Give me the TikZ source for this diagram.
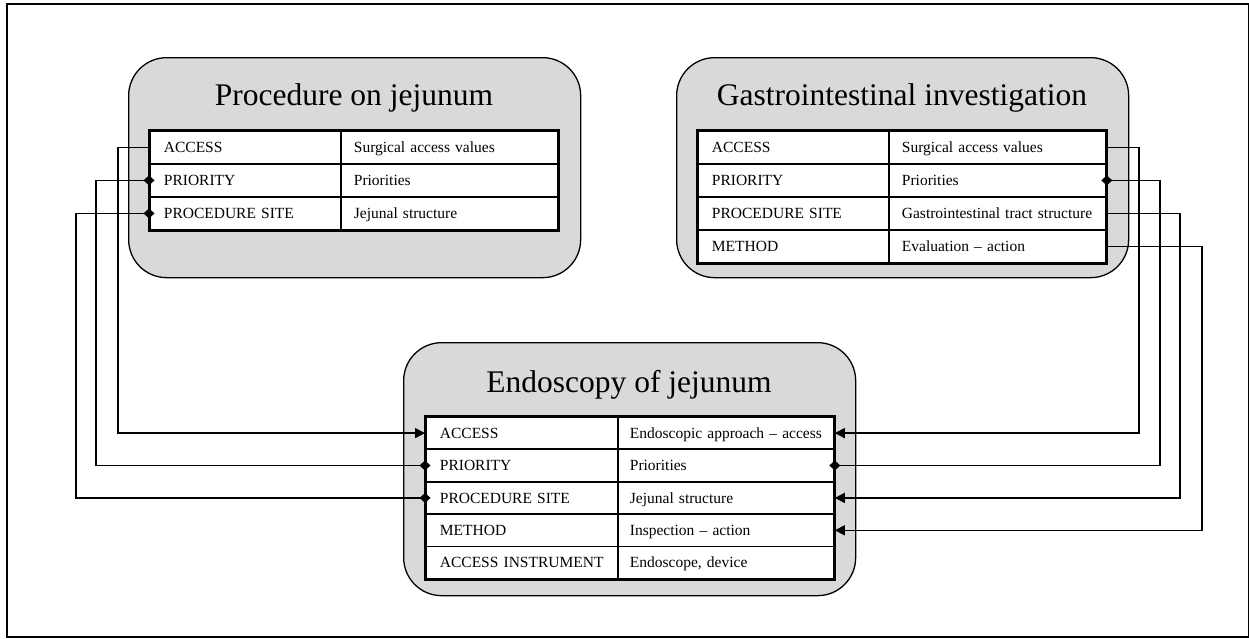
\documentclass[tikz,border=0pt]{standalone}
\usepackage{fontspec}
\setmainfont{Liberation Serif}
\usetikzlibrary{arrows.meta}
\definecolor{panelgrey}{RGB}{217,217,217}
\tikzset{
  panel/.style={draw=black, line width=1.3pt, fill=panelgrey, rounded corners=38pt, anchor=north west, inner sep=0pt},
  title/.style={anchor=base, font=\fontsize{31.5}{36}\selectfont, inner sep=0pt},
  cell/.style={draw=black, line width=1.8pt, fill=white, anchor=north west, inner xsep=0pt, inner ysep=0pt,
               align=left, text height=10.3pt, text depth=0pt, font=\fontsize{15.5}{18}\selectfont},
  cola/.style={cell, text width=191pt, minimum height=33pt, execute at begin node={\hspace*{14pt}}},
  colb/.style={cell, text width=217pt, minimum height=33pt, execute at begin node={\hspace*{13pt}}},
  bcola/.style={cell, text width=192pt, minimum height=32.4pt, execute at begin node={\hspace*{14pt}}},
  bcolb/.style={cell, text width=216pt, minimum height=32.4pt, execute at begin node={\hspace*{12pt}}},
  tframe/.style={draw=black, line width=3pt},
  conn/.style={draw=black, line width=1.6pt},
  arr/.style={conn, -{Triangle[length=10pt,width=10pt]}},
  dia/.style={conn, {Diamond[length=11pt,width=10pt]}-{Diamond[length=11pt,width=10pt]}, shorten <=-5.5pt, shorten >=-5.5pt},
}
\begin{document}
\begin{tikzpicture}[x=1pt,y=-1pt]
\useasboundingbox (0,0) rectangle (1249,638);
\draw[line width=1.4pt] (7,4) rectangle (1248.3,637);

% panels
\node[panel, minimum width=452pt, minimum height=220pt] (pl) at (128,57) {};
\node[panel, minimum width=452pt, minimum height=220pt] (pr) at (676,57) {};
\node[panel, minimum width=452pt, minimum height=253pt] (pb) at (403,342) {};

\node[title] (tl) at (354,105) {Procedure on jejunum};
\node[title] (tr) at (902,105) {Gastrointestinal investigation};
\node[title] (tb) at (629,392) {Endoscopy of jejunum};

% left table
\node[cola] (l1a) at (149,130) {ACCESS};
\node[colb] (l1b) at (340,130) {Surgical access values};
\node[cola] (l2a) at (149,163) {PRIORITY};
\node[colb] (l2b) at (340,163) {Priorities};
\node[cola] (l3a) at (149,196) {PROCEDURE SITE};
\node[colb] (l3b) at (340,196) {Jejunal structure};
\draw[tframe] (l1a.north west) rectangle (l3b.south east);

% right table
\node[cola] (r1a) at (697,130) {ACCESS};
\node[colb] (r1b) at (888,130) {Surgical access values};
\node[cola] (r2a) at (697,163) {PRIORITY};
\node[colb] (r2b) at (888,163) {Priorities};
\node[cola] (r3a) at (697,196) {PROCEDURE SITE};
\node[colb] (r3b) at (888,196) {Gastrointestinal tract structure};
\node[cola] (r4a) at (697,229) {METHOD};
\node[colb] (r4b) at (888,229) {Evaluation -- action};
\draw[tframe] (r1a.north west) rectangle (r4b.south east);

% bottom table
\node[bcola] (b1a) at (425,416) {ACCESS};
\node[bcolb] (b1b) at (617,416) {Endoscopic approach -- access};
\node[bcola] (b2a) at (425,448.4) {PRIORITY};
\node[bcolb] (b2b) at (617,448.4) {Priorities};
\node[bcola] (b3a) at (425,480.8) {PROCEDURE SITE};
\node[bcolb] (b3b) at (617,480.8) {Jejunal structure};
\node[bcola] (b4a) at (425,513.2) {METHOD};
\node[bcolb] (b4b) at (617,513.2) {Inspection -- action};
\node[bcola] (b5a) at (425,545.6) {ACCESS INSTRUMENT};
\node[bcolb] (b5b) at (617,545.6) {Endoscope, device};
\draw[tframe] (b1a.north west) rectangle (b5b.south east);

% left connectors
\draw[arr] (l1a.west) -- ++(-31,0) |- (b1a.west);
\draw[dia] (l2a.west) -- ++(-53,0) |- (b2a.west);
\draw[dia] (l3a.west) -- ++(-73,0) |- (b3a.west);

% right connectors
\draw[arr] (r1b.east) -- ++(32,0) |- (b1b.east);
\draw[dia] (r2b.east) -- ++(53,0) |- (b2b.east);
\draw[arr] (r3b.east) -- ++(73,0) |- (b3b.east);
\draw[arr] (r4b.east) -- ++(95,0) |- (b4b.east);
\end{tikzpicture}
\end{document}
